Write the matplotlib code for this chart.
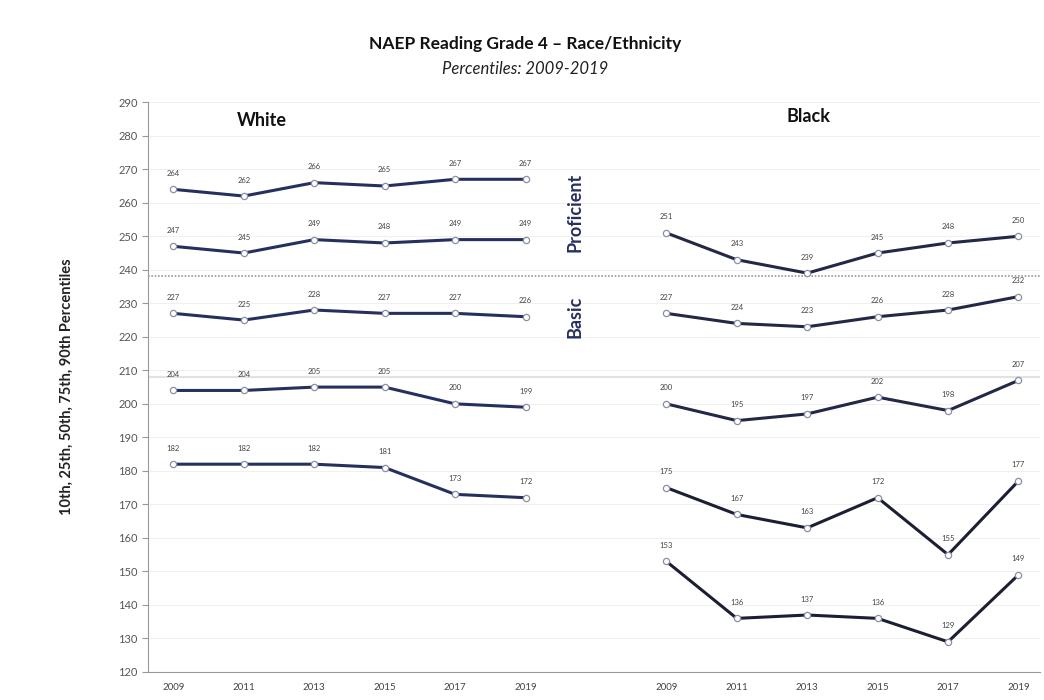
import matplotlib.pyplot as plt

plt.rcParams['font.family'] = ['Lato', 'DejaVu Sans']

years = ['2009', '2011', '2013', '2015', '2017', '2019']

# White percentiles (90th, 75th, 50th, 25th, 10th)
white_p90 = [264, 262, 266, 265, 267, 267]
white_p75 = [247, 245, 249, 248, 249, 249]
white_p50 = [227, 225, 228, 227, 227, 226]
white_p25 = [204, 204, 205, 205, 200, 199]
white_p10 = [182, 182, 182, 181, 173, 172]

# Black percentiles
black_p90 = [251, 243, 239, 245, 248, 250]
black_p75 = [227, 224, 223, 226, 228, 232]
black_p50 = [200, 195, 197, 202, 198, 207]
black_p25 = [175, 167, 163, 172, 155, 177]
black_p10 = [153, 136, 137, 136, 129, 149]

proficient_cut = 238
basic_cut = 208

white_x = list(range(0, 6))
black_x = list(range(7, 13))

fig = plt.figure(figsize=(10.44, 7), dpi=100)
ax = fig.add_axes([0.1418, 0.04, 0.854, 0.814])

navy = '#26305e'
dark = '#1c1f33'

def draw(xs, vals, color):
    ax.plot(xs, vals, color=color, lw=2.2, marker='o', ms=4.5,
            mfc='white', mec='#8a8fa8', mew=0.9, zorder=3)
    for x, v in zip(xs, vals):
        ax.annotate(str(v), (x, v), xytext=(0, 9), textcoords='offset points',
                    ha='center', va='bottom', fontsize=5.5, color='#444444')

for s in [white_p90, white_p75, white_p50, white_p25, white_p10]:
    draw(white_x, s, navy)
for s in [black_p90, black_p75, black_p50]:
    draw(black_x, s, '#232845')
for s in [black_p25, black_p10]:
    draw(black_x, s, dark)

# cut score lines
ax.axhline(proficient_cut, color='#999999', lw=1.2, ls=(0, (1, 1)), zorder=2)
ax.axhline(basic_cut, color='#e2e2e2', lw=1.5, zorder=1)

ax.set_ylim(120, 290)
ax.set_xlim(-0.36, 12.3)
ax.set_yticks(range(120, 291, 10))
ax.grid(axis='y', color='#f0f0f0', lw=0.8)
ax.set_axisbelow(True)

ax.set_xticks(white_x + black_x)
ax.set_xticklabels(years + years, fontsize=7, color='#444444')
ax.tick_params(axis='y', labelsize=8, colors='#555555', length=4, color='#999999')
ax.tick_params(axis='x', length=0, pad=8)

for sp in ['top', 'right']:
    ax.spines[sp].set_visible(False)
ax.spines['left'].set_color('#999999')
ax.spines['bottom'].set_color('#999999')

ax.set_ylabel('10th, 25th, 50th, 75th, 90th Percentiles', fontsize=10.5,
              fontweight='bold', color='#222222', labelpad=32)

ax.text(0.9, 283, 'White', fontsize=13, fontweight='bold', color='#111111')
ax.text(8.7, 284, 'Black', fontsize=13, fontweight='bold', color='#111111')
ax.text(5.7, 257, 'Proficient', rotation=90, fontsize=13, fontweight='bold',
        color=navy, ha='center', va='center')
ax.text(5.7, 226, 'Basic', rotation=90, fontsize=13, fontweight='bold',
        color=navy, ha='center', va='center')

fig.text(0.503, 0.93, 'NAEP Reading Grade 4 \u2013 Race/Ethnicity', ha='center',
         fontsize=12.5, fontweight='bold', color='#111111')
fig.text(0.503, 0.895, 'Percentiles: 2009-2019', ha='center', fontsize=12,
         style='italic', color='#222222')

fig.savefig('out.png', dpi=100)
